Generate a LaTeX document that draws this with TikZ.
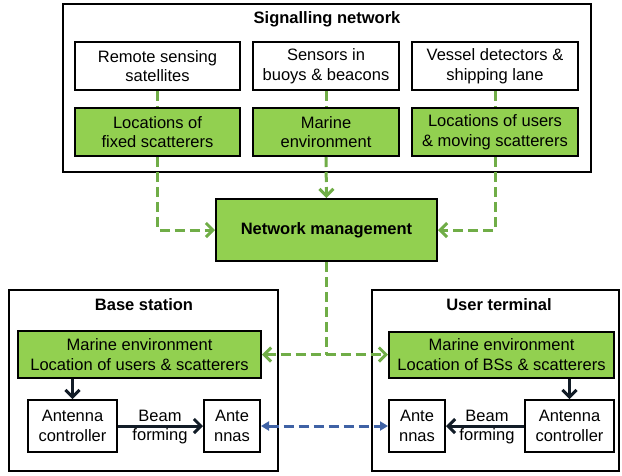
\documentclass[tikz,border=0pt]{standalone}
\usepackage{fontspec}
\setmainfont{Liberation Sans}
\usetikzlibrary{arrows.meta}
\definecolor{boxgreen}{HTML}{92D050}
\definecolor{linkgreen}{HTML}{70AD47}
\definecolor{linkblue}{HTML}{3F62A5}
\definecolor{ink}{HTML}{121C27}
\begin{document}
\begin{tikzpicture}[x=1pt,y=-1pt,
  font=\fontsize{16.5}{19.5}\selectfont,
  frame/.style={draw=black,line width=2pt},
  title/.style={font=\fontsize{16.5}{19.5}\selectfont\bfseries},
  wbox/.style={draw=black,line width=2pt,fill=white,align=center,inner sep=0pt},
  gbox/.style={wbox,fill=boxgreen},
  glink/.style={draw=linkgreen,line width=3pt,dash pattern=on 10pt off 5pt},
  blink/.style={draw=linkblue,line width=3pt,dash pattern=on 10pt off 5pt},
  klink/.style={draw=ink,line width=3pt},
  gtip/.tip={Straight Barb[length=7pt,width=14pt]},
  btip/.tip={Triangle[length=8pt,width=9pt]},
  ktip/.tip={Straight Barb[length=7pt,width=14pt]}]
\useasboundingbox (0,0) rectangle (622,475);

% enclosing frames
\draw[frame] (63,4) rectangle (591,172);
\draw[frame] (9,290) rectangle (278,471);
\draw[frame] (372,290) rectangle (619,471);
\node[title] (tsig) at (327,19) {Signalling network};
\node[title] (tbs) at (144,305) {Base station};
\node[title] (tut) at (499,305) {User terminal};

% signalling network sources and data
\node[wbox,minimum width=165pt,minimum height=48pt] (rs) at (157.5,66) {Remote sensing\\satellites};
\node[wbox,minimum width=146pt,minimum height=48pt] (sb) at (326,66) {Sensors in\\buoys \& beacons};
\node[wbox,minimum width=166pt,minimum height=48pt] (vd) at (495,66) {Vessel detectors \&\\shipping lane};
\node[gbox,minimum width=165pt,minimum height=48pt] (lf) at (157.5,132) {Locations of\\fixed scatterers};
\node[gbox,minimum width=146pt,minimum height=48pt] (me) at (326,132) {Marine\\environment};
\node[gbox,minimum width=166pt,minimum height=48pt] (lu) at (495,132) {Locations of users\\\& moving scatterers};

% network management
\node[gbox,title,minimum width=221pt,minimum height=62pt] (nm) at (326.5,230) {Network management};

% base station
\node[gbox,minimum width=243pt,minimum height=47pt] (bsg) at (139.5,354.5) {Marine environment\\Location of users \& scatterers};
\node[wbox,minimum width=89pt,minimum height=52pt] (bsac) at (72.5,426) {Antenna\\controller};
\node[wbox,minimum width=56pt,minimum height=52pt] (bsant) at (232,426) {Ante\\nnas};
\node[align=center,inner sep=0pt] (bsbf) at (160,427) {Beam\\forming};

% user terminal
\node[gbox,minimum width=225pt,minimum height=46pt] (utg) at (501.5,354.5) {Marine environment\\Location of BSs \& scatterers};
\node[wbox,minimum width=89pt,minimum height=52pt] (utac) at (569.5,426) {Antenna\\controller};
\node[wbox,minimum width=56pt,minimum height=52pt] (utant) at (417,426) {Ante\\nnas};
\node[align=center,inner sep=0pt] (utbf) at (487,427) {Beam\\forming};

% signalling links
\draw[glink] (rs.south) -- (lf.north);
\draw[glink] (sb.south) -- (me.north);
\draw[glink] (vd.south) -- (lu.north);
\draw[glink,-gtip] (lf.south) |- (nm.west);
\draw[glink,-gtip] (me.south) -- (nm.north);
\draw[glink,-gtip] (lu.south) |- (nm.east);
\coordinate (split) at (nm.south |- bsg.east);
\draw[glink] (nm.south) -- (split);
\draw[glink,gtip-gtip] (bsg.east) -- (utg.west);

% radio link between antennas
\draw[blink,btip-btip] (bsant.east) -- (utant.west);

% local control paths
\draw[klink,-ktip] (bsg.south -| bsac.north) -- (bsac.north);
\draw[klink,-ktip] (bsac.east) -- (bsant.west);
\draw[klink,-ktip] (utg.south -| utac.north) -- (utac.north);
\draw[klink,-ktip] (utac.west) -- (utant.east);
\end{tikzpicture}
\end{document}
